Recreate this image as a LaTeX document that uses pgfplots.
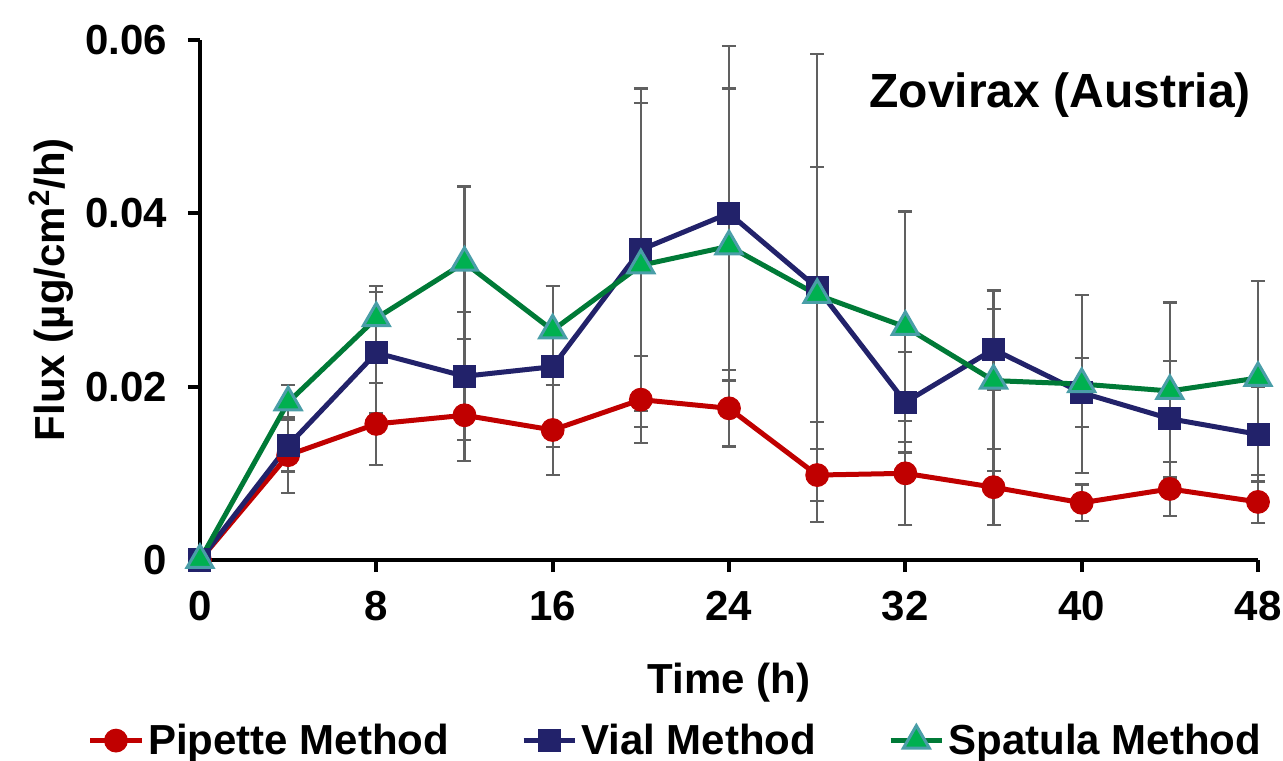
\documentclass[border=0pt]{standalone}
\usepackage{pgfplots}
\pgfplotsset{compat=1.18}
\usepackage{pgfplotstable}
\usepackage{fontspec}
\setmainfont{Liberation Sans}
\newcommand\bigf{\fontsize{21}{25}\selectfont\bfseries}
\definecolor{cred}{HTML}{C00000}
\definecolor{cnavy}{HTML}{22226A}
\definecolor{cgreen}{HTML}{007A37}
\definecolor{cgfill}{HTML}{00B050}
\definecolor{cteal}{HTML}{4A9EA8}
\definecolor{cerr}{HTML}{606060}
\pgfplotstableread{
t pip pipe vial viale spat spate
0 0 0 0 0 0 0
4 0.0121 0.0044 0.0132 0.0030 0.0182 0.0020
8 0.0157 0.0047 0.0239 0.0070 0.0279 0.0037
12 0.0167 0.0053 0.0212 0.0074 0.0343 0.0088
16 0.0150 0.0052 0.0223 0.0093 0.0265 0.0051
20 0.0185 0.0050 0.0358 0.0186 0.0340 0.0187
24 0.0175 0.0044 0.0400 0.0193 0.0362 0.0182
28 0.0098 0.0030 0.0314 0.0270 0.0306 0.0147
32 0.0100 0.0060 0.0182 0.0058 0.0269 0.0133
36 0.0084 0.0044 0.0243 0.0047 0.0207 0.0104
40 0.0066 0.0021 0.0193 0.0040 0.0203 0.0103
44 0.0082 0.0031 0.0163 0.0067 0.0195 0.0102
48 0.0067 0.0024 0.0145 0.0055 0.0210 0.0112
}\data
\begin{document}
\begin{tikzpicture}
\begin{axis}[
  name=ax,
  scale only axis, width=529pt, height=260pt,
  xmin=0, xmax=48, ymin=0, ymax=0.06,
  axis x line*=bottom, axis y line*=left,
  axis line style={line width=2pt, black},
  xtick={0,8,16,24,32,40,48},
  ytick={0,0.02,0.04,0.06},
  yticklabels={0,0.02,0.04,0.06},
  scaled y ticks=false,
  tick align=outside, major tick length=6pt,
  tick style={line width=2pt, black},
  /pgf/number format/assume math mode=true,
  tick label style={font=\bigf},
  yticklabel style={xshift=-7pt},
  xticklabel style={yshift=-6pt},
  xlabel={Time (h)},
  ylabel={Flux (µg/cm\textsuperscript{2}/h)},
  label style={font=\bigf},
  xlabel style={at={(axis description cs:0.5,-0.235)}, anchor=center},
  ylabel style={at={(axis description cs:-0.141,0.52)}, anchor=center},
  clip=false,
  legend columns=3,
  legend style={draw=none, fill=none, font=\bigf, at={(rel axis cs:-0.112,-0.299)}, anchor=north west,
    /tikz/every even column/.append style={column sep=34pt}},
  legend cell align=left,
  legend image code/.code={\draw[#1, mark repeat=2, mark phase=2] plot coordinates {(0cm,0cm) (0.45cm,0cm) (0.9cm,0cm)};},
]
% error bars first (behind lines)
\addplot[draw=none, forget plot, error bars/.cd, y dir=both, y explicit,
  error bar style={line width=1.1pt, cerr}, error mark options={rotate=90, mark size=3.5pt, line width=1.1pt, cerr}]
  table[x=t, y=pip, y error=pipe]{\data};
\addplot[draw=none, forget plot, error bars/.cd, y dir=both, y explicit,
  error bar style={line width=1.1pt, cerr}, error mark options={rotate=90, mark size=3.5pt, line width=1.1pt, cerr}]
  table[x=t, y=vial, y error=viale]{\data};
\addplot[draw=none, forget plot, error bars/.cd, y dir=both, y explicit,
  error bar style={line width=1.1pt, cerr}, error mark options={rotate=90, mark size=3.5pt, line width=1.1pt, cerr}]
  table[x=t, y=spat, y error=spate]{\data};
% series
\addplot[cred, line width=2.5pt, mark=*, mark size=5.7pt, mark options={fill=cred, draw=cred, line width=0.5pt}]
  table[x=t, y=pip]{\data};
\addlegendentry{Pipette Method}
\addplot[cnavy, line width=2.5pt, mark=square*, mark size=5.5pt, mark options={fill=cnavy, draw=cnavy, line width=0.5pt}]
  table[x=t, y=vial]{\data};
\addlegendentry{Vial Method}
\addplot[cgreen, line width=2.5pt, mark=triangle*, mark size=7.5pt, mark options={fill=cgfill, draw=cteal, line width=1.5pt}]
  table[x=t, y=spat]{\data};
\addlegendentry{Spatula Method}
\node[font=\fontsize{24}{28}\selectfont\bfseries, anchor=east] at (rel axis cs:1.0,0.894) {Zovirax (Austria)};
\coordinate (bl) at (rel axis cs:-0.189,-0.3865);
\coordinate (tr) at (rel axis cs:1.0236,1.0769);
\end{axis}
\pgfresetboundingbox
\path[use as bounding box] (bl) rectangle (tr);
\end{tikzpicture}
\end{document}
